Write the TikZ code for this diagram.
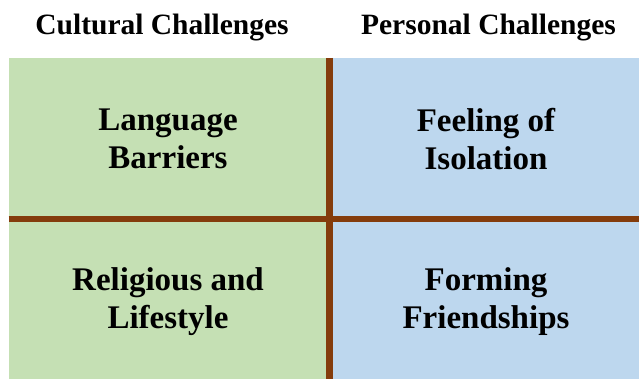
\documentclass[tikz,border=0pt]{standalone}
\usepackage{fontspec}
\setmainfont{Liberation Serif}
\definecolor{cellgreen}{HTML}{C5E0B4}
\definecolor{cellblue}{HTML}{BDD7EE}
\definecolor{divbrown}{HTML}{843C0C}
\tikzset{
  head/.style={font=\bfseries\fontsize{29.5}{34}\selectfont, anchor=base, inner sep=0pt},
  cell/.style={font=\bfseries\fontsize{33}{38}\selectfont, align=center, inner sep=0pt},
  divider/.style={draw=divbrown, line width=6.5pt}
}
\begin{document}
\begin{tikzpicture}[x=1pt,y=-1pt]
\useasboundingbox (0,0) rectangle (639,379);
\fill[white] (0,0) rectangle (639,379);
\fill[cellgreen] (8.5,58) rectangle (329.5,379);
\fill[cellblue] (329.5,58) rectangle (639,379);
\coordinate (vtop) at (329.5,58);
\coordinate (vbot) at (329.5,379);
\coordinate (hl) at (8.5,219);
\coordinate (hr) at (639,219);
\draw[divider] (hl) -- (hr);
\draw[divider] (vtop) -- (vbot);
\node[head] (h1) at (162,35) {Cultural Challenges};
\node[head] (h2) at (488.5,35) {Personal Challenges};
\node[cell] (c1) at (168,139) {Language\\Barriers};
\node[cell] (c2) at (486,139) {Feeling of\\Isolation};
\node[cell] (c3) at (168,302) {Religious and\\Lifestyle};
\node[cell] (c4) at (486,302) {Forming\\Friendships};
\end{tikzpicture}
\end{document}
